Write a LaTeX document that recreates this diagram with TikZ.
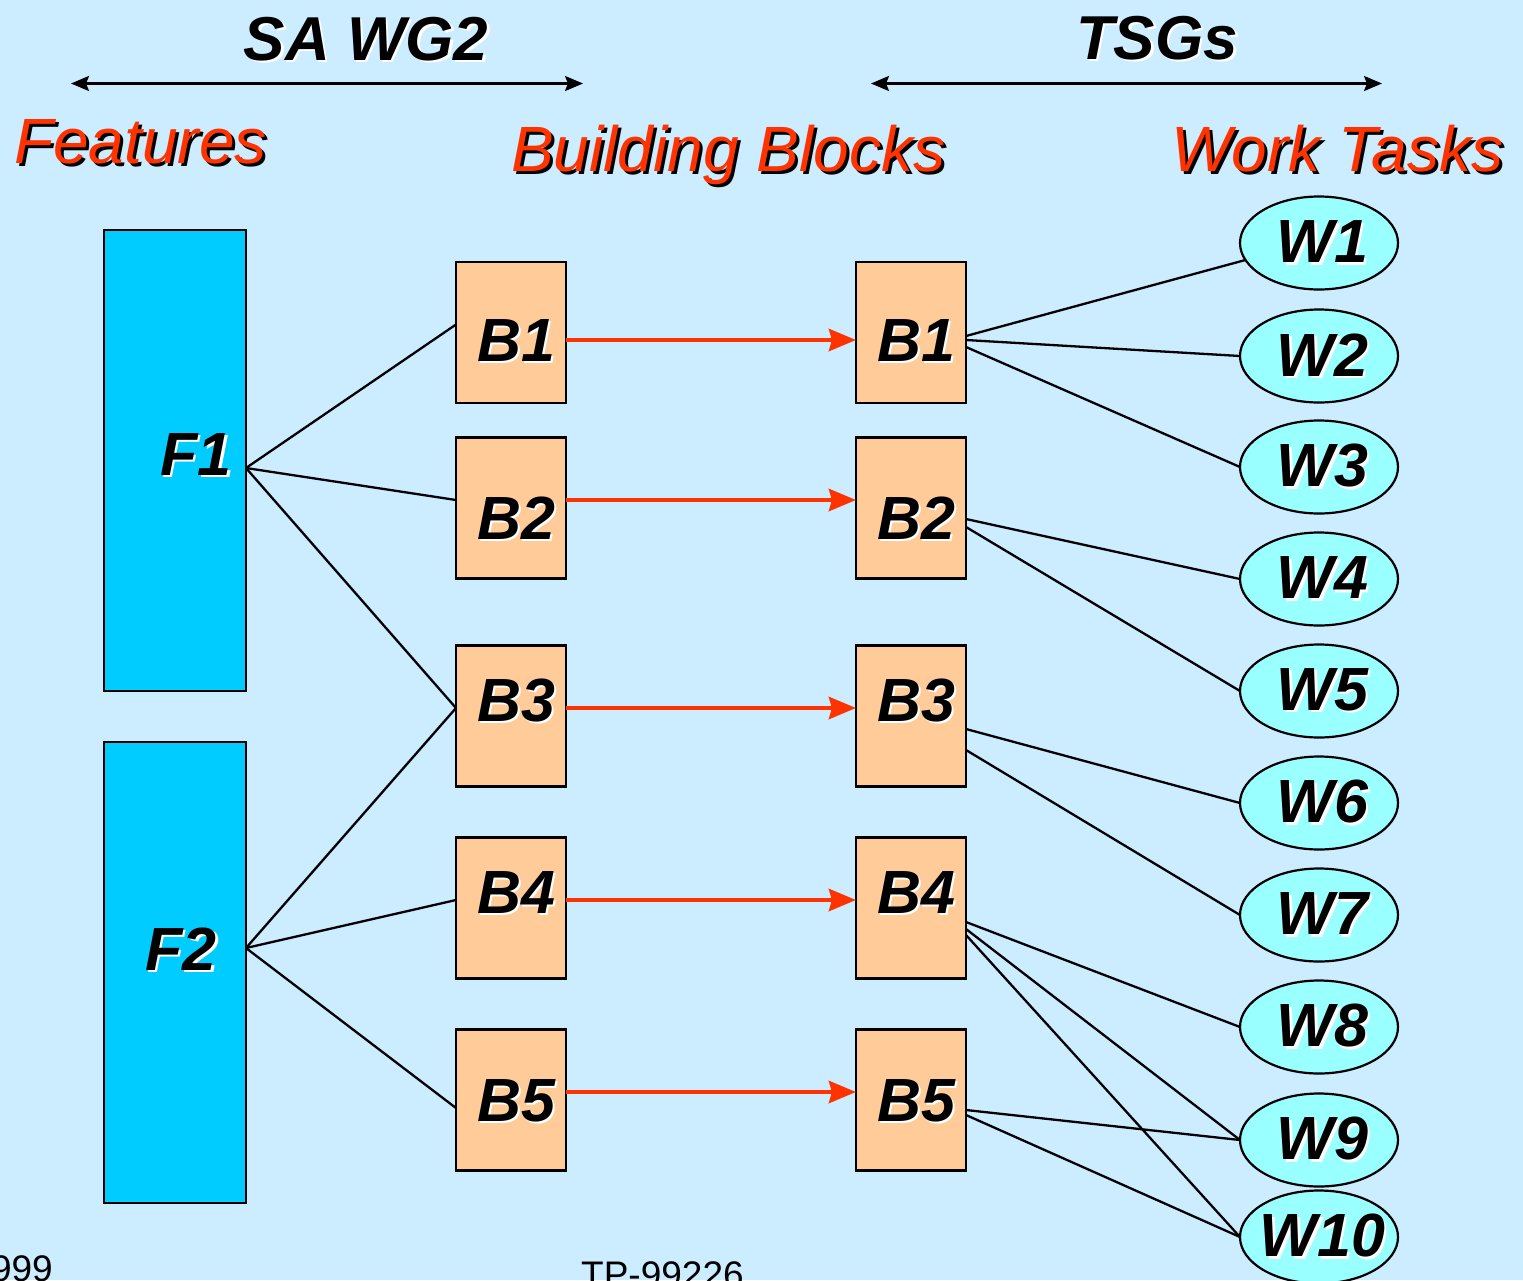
\documentclass[tikz,border=0pt]{standalone}
\usepackage{fontspec}
\setmainfont{Liberation Sans}
\usetikzlibrary{arrows.meta,shapes.geometric}
\definecolor{bg}{HTML}{CCECFF}
\definecolor{fcol}{HTML}{00CCFF}
\definecolor{bcol}{HTML}{FFCC99}
\definecolor{wcol}{HTML}{99FFFF}
\definecolor{myred}{HTML}{FF3300}
\newcommand\wsh[1]{\makebox[0pt][l]{\kern2.5pt\raisebox{-2.5pt}{\color{white}#1}}#1}
\newcommand\bsh[1]{\makebox[0pt][l]{\kern3pt\raisebox{-3pt}{\color{black}#1}}\textcolor{myred}{#1}}
\newcommand\biglabfont{\fontsize{61}{61}\selectfont\bfseries\itshape}
\newcommand\headfont{\fontsize{62}{62}\selectfont\bfseries\itshape}
\newcommand\subheadfont{\fontsize{64}{64}\selectfont\itshape}
\newcommand\footfont{\fontsize{37}{37}\selectfont}
\begin{document}
\begin{tikzpicture}[x=1pt,y=-1pt,
  feat/.style={draw, line width=2.2pt, fill=fcol, minimum width=142pt, minimum height=461pt, outer sep=0pt, inner sep=0pt},
  blk/.style={draw, line width=2.2pt, fill=bcol, minimum width=110pt, minimum height=141pt, outer sep=0pt, inner sep=0pt},
  wt/.style={ellipse, draw, line width=2.2pt, fill=wcol, minimum width=158pt, minimum height=93pt, outer sep=0pt, inner sep=0pt, font=\biglabfont},
  lab/.style={anchor=base, inner sep=0pt, font=\biglabfont},
  conn/.style={line width=2.3pt, black},
  flow/.style={line width=4.5pt, myred, -{Stealth[length=27pt,width=22pt,inset=3pt]}},
  spanarrow/.style={line width=2.5pt, {Stealth[length=18pt,width=15pt,inset=3pt]}-{Stealth[length=18pt,width=15pt,inset=3pt]}},
]
\useasboundingbox (0,0) rectangle (1523,1280);
\clip (0,0) rectangle (1523,1280);
\fill[bg] (0,0) rectangle (1523,1280);

% headings
\node[anchor=base, inner sep=0pt, font=\headfont] (sawg) at (366,60) {\wsh{SA WG2}};
\node[anchor=base, inner sep=0pt, font=\headfont] (tsgs) at (1157,59) {\wsh{TSGs}};
\coordinate (s1a) at (71,83.5);
\coordinate (s1b) at (583,83.5);
\coordinate (s2a) at (871,83.5);
\coordinate (s2b) at (1382,83.5);
\draw[spanarrow] (s1a) -- (s1b);
\draw[spanarrow] (s2a) -- (s2b);
\node[anchor=base west, inner sep=0pt, font=\subheadfont] (hfeat) at (14,163) {\bsh{Features}};
\node[anchor=base west, inner sep=0pt, font=\subheadfont] (hbb) at (511,171) {\bsh{Building Blocks}};
\node[anchor=base west, inner sep=0pt, font=\subheadfont] (hwt) at (1171,171) {\bsh{Work Tasks}};

% features
\node[feat] (F1) at (175,460.5) {};
\node[feat] (F2) at (175,972.5) {};
\node[lab] (F1t) at (196,475) {\wsh{F1}};
\node[lab] (F2t) at (181,970) {\wsh{F2}};

% building blocks
\foreach \i/\y in {1/332.5,2/508,3/716,4/908,5/1100}{
  \node[blk] (L\i) at (511,\y) {};
  \node[blk] (R\i) at (911,\y) {};
}
\foreach \i/\y in {1/361,2/539,3/721,4/913,5/1121}{
  \node[lab] (L\i t) at (516,\y) {\wsh{B\i}};
  \node[lab] (R\i t) at (916,\y) {\wsh{B\i}};
}

% work tasks
\foreach \i/\y in {1/243,2/356,3/467,4/579,5/691,6/803,7/915,8/1027,9/1140,10/1237}{
  \node[wt] (W\i) at (1319,\y) {\makebox[0pt]{\hspace{7pt}\wsh{W\i}}};
}

% features to blocks
\draw[conn] ([yshift=-7.5pt]F1.east) -- ([yshift=8pt]L1.west);
\draw[conn] ([yshift=-7.5pt]F1.east) -- ([yshift=8pt]L2.west);
\draw[conn] ([yshift=-7.5pt]F1.east) -- ([yshift=8pt]L3.west);
\draw[conn] ([yshift=24.5pt]F2.east) -- ([yshift=8pt]L3.west);
\draw[conn] ([yshift=24.5pt]F2.east) -- ([yshift=8pt]L4.west);
\draw[conn] ([yshift=24.5pt]F2.east) -- ([yshift=-8pt]L5.west);

% flows
\draw[flow] ([yshift=-7.5pt]L1.east) -- ([yshift=-7.5pt]R1.west);
\draw[flow] ([yshift=8pt]L2.east) -- ([yshift=8pt]R2.west);
\draw[flow] ([yshift=8pt]L3.east) -- ([yshift=8pt]R3.west);
\draw[flow] ([yshift=8pt]L4.east) -- ([yshift=8pt]R4.west);
\draw[flow] ([yshift=8pt]L5.east) -- ([yshift=8pt]R5.west);

% blocks to work tasks
\draw[conn] ([yshift=-3.5pt]R1.east) -- (W1.193);
\draw[conn] ([yshift=-7.5pt]R1.east) -- (W2.west);
\draw[conn] ([yshift=-14.5pt]R1.east) -- (W3.west);
\draw[conn] ([yshift=-11pt]R2.east) -- (W4.west);
\draw[conn] ([yshift=-19pt]R2.east) -- (W5.west);
\draw[conn] ([yshift=-13pt]R3.east) -- (W6.west);
\draw[conn] ([yshift=-34pt]R3.east) -- (W7.west);
\draw[conn] ([yshift=-14pt]R4.east) -- (W8.west);
\draw[conn] ([yshift=-21pt]R4.east) -- (W9.west);
\draw[conn] ([yshift=-27pt]R4.east) -- (W10.west);
\draw[conn] ([yshift=-10pt]R5.east) -- (W9.west);
\draw[conn] ([yshift=-15pt]R5.east) -- (W10.west);

% footer
\node[anchor=base east, inner sep=0pt, font=\footfont] (yr) at (53,1281) {999};
\node[anchor=base west, inner sep=0pt, font=\footfont] (tp) at (581,1287) {TP-99226};
\end{tikzpicture}
\end{document}
